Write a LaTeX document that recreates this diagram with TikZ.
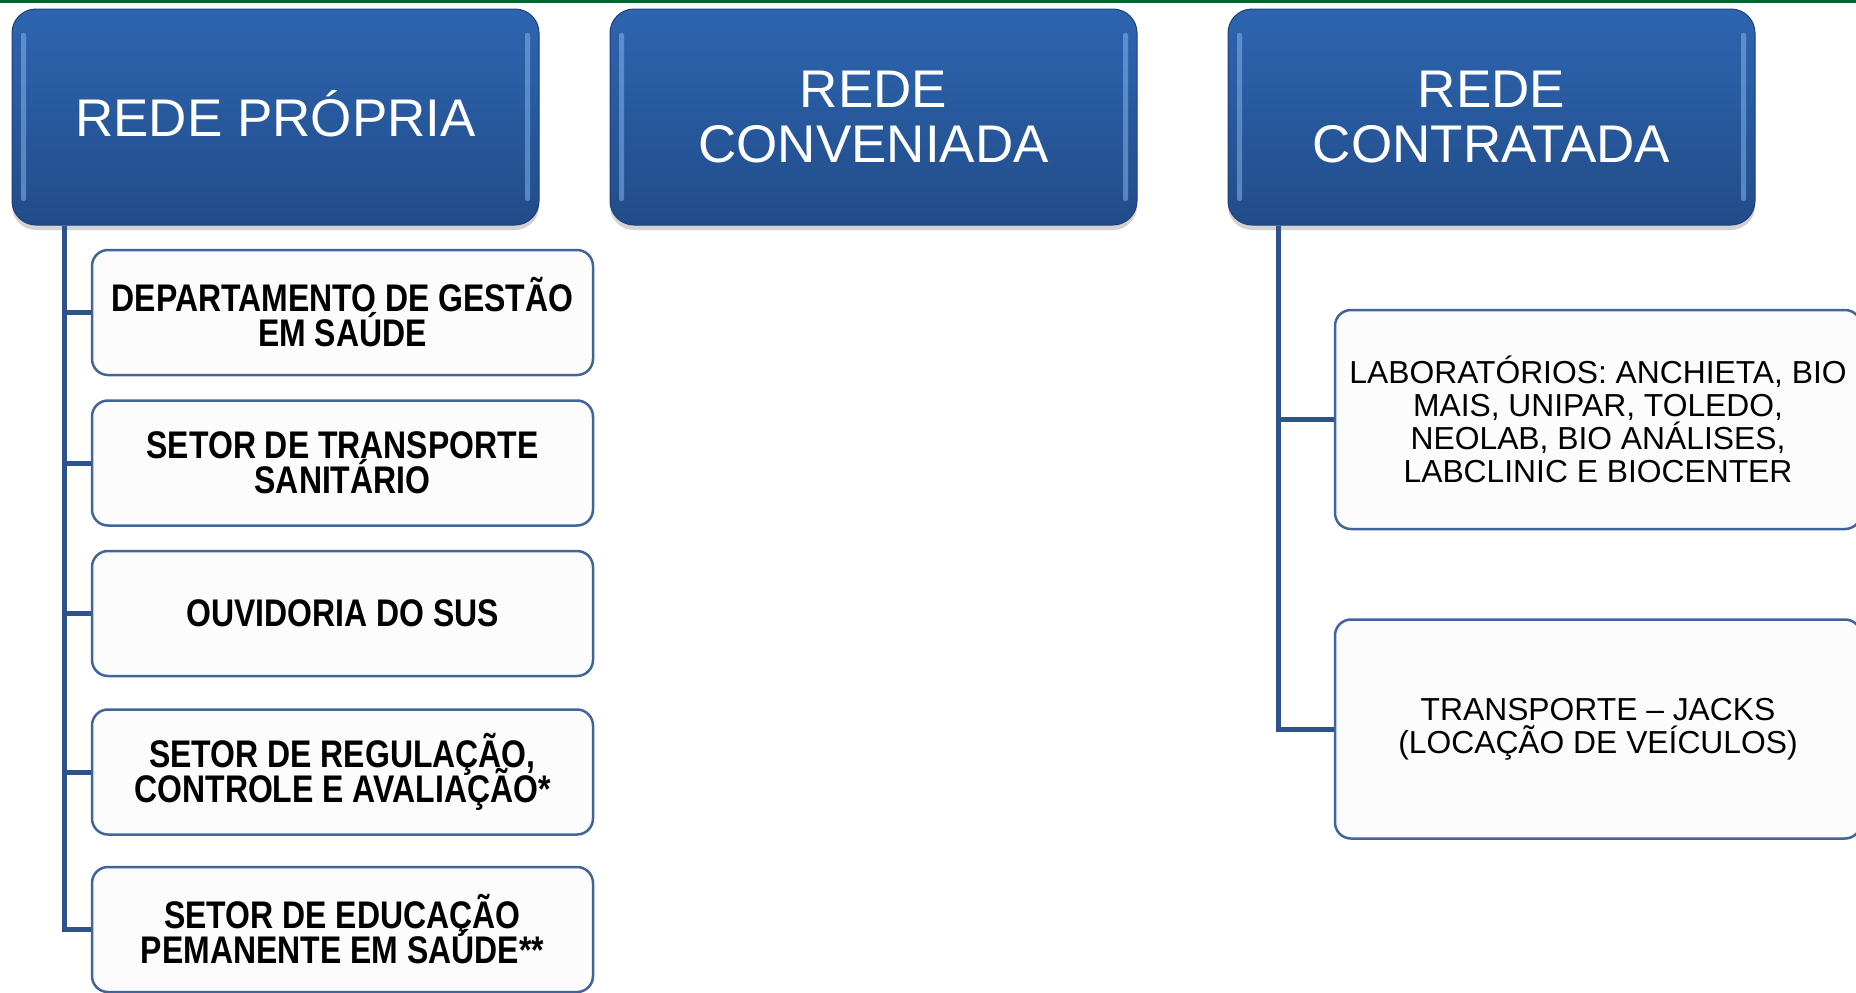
\documentclass[tikz,border=0pt]{standalone}
\usepackage{fontspec}
\setmainfont{Liberation Sans}
\newfontfamily\narrowfont[FakeStretch=0.83]{Liberation Sans}
\usepackage{tikz}
\usetikzlibrary{positioning,shadows}
\definecolor{hdrtop}{RGB}{46,101,176}
\definecolor{hdrbot}{RGB}{33,76,138}
\definecolor{hdrline}{RGB}{30,64,118}
\definecolor{gloss}{RGB}{140,186,240}
\definecolor{linkblue}{RGB}{46,82,140}
\definecolor{subline}{RGB}{66,100,154}
\definecolor{subfill}{RGB}{252,252,253}
\definecolor{topgreen}{RGB}{0,100,50}

\begin{document}
\begin{tikzpicture}[x=1pt,y=-1pt,
hdr/.style={draw=hdrline,line width=1pt,rounded corners=24pt,top color=hdrtop,bottom color=hdrbot,
  minimum width=527pt,minimum height=216pt,align=center,text=white,
  font={\fontsize{53}{54.5}\selectfont},
  drop shadow={shadow xshift=0pt,shadow yshift=-5pt,opacity=0.35},
  path picture={
    \fill[gloss,opacity=0.5,rounded corners=2pt] ([xshift=9pt,yshift=-24pt]path picture bounding box.north west) rectangle ([xshift=14pt,yshift=24pt]path picture bounding box.south west);
    \fill[gloss,opacity=0.5,rounded corners=2pt] ([xshift=-9pt,yshift=-24pt]path picture bounding box.north east) rectangle ([xshift=-14pt,yshift=24pt]path picture bounding box.south east);}},
sub/.style={draw=subline,line width=2.5pt,rounded corners=16pt,fill=subfill,
  minimum width=501pt,minimum height=125pt,align=center,
  font={\narrowfont\bfseries\fontsize{38.5}{35}\selectfont\lineskiplimit=-30pt}},
lab/.style={sub,minimum width=526pt,minimum height=219pt,
  font={\fontsize{31.8}{33}\selectfont\lineskiplimit=-30pt}},
lnk/.style={draw=linkblue,line width=5pt}
]
\useasboundingbox (0,0) rectangle (1856,993);
\clip (0,0) rectangle (1856,993);
\fill[white] (0,0) rectangle (1856,993);
\fill[topgreen] (0,0) rectangle (1856,2.5);

\node[hdr, text height=38pt, text depth=0pt] (hp) at (275.5,117) {REDE PRÓPRIA};
\node[hdr, right=70pt of hp] (hv) {REDE\\CONVENIADA};
\node[hdr, right=90pt of hv] (hc) {REDE\\CONTRATADA};

\node[sub] (gs) at (342.5,312.5) {DEPARTAMENTO DE GESTÃO\\EM SAÚDE};
\node[sub, below=23pt of gs] (ts) {SETOR DE TRANSPORTE\\SANITÁRIO};
\node[sub, below=23pt of ts] (ou) {OUVIDORIA DO SUS};
\node[sub, below=31pt of ou] (rc) {SETOR DE REGULAÇÃO,\\CONTROLE E AVALIAÇÃO*};
\node[sub, below=30pt of rc] (ep) {SETOR DE EDUCAÇÃO\\PEMANENTE EM SAÚDE**};

\node[lab] (lb) at (1598,419.5) {LABORATÓRIOS: ANCHIETA, BIO\\MAIS, UNIPAR, TOLEDO,\\NEOLAB, BIO ANÁLISES,\\LABCLINIC E BIOCENTER};
\node[lab, below=88pt of lb] (tr) {TRANSPORTE – JACKS\\(LOCAÇÃO DE VEÍCULOS)};

\coordinate (pt) at ([xshift=53pt]hp.south west);
\coordinate (ct) at ([xshift=51pt]hc.south west);
\draw[lnk] (pt) |- (gs.west);
\draw[lnk] (pt) |- (ts.west);
\draw[lnk] (pt) |- (ou.west);
\draw[lnk] (pt) |- (rc.west);
\draw[lnk] (pt) |- (ep.west);
\draw[lnk] (ct) |- (lb.west);
\draw[lnk] (ct) |- (tr.west);
\end{tikzpicture}
\end{document}
